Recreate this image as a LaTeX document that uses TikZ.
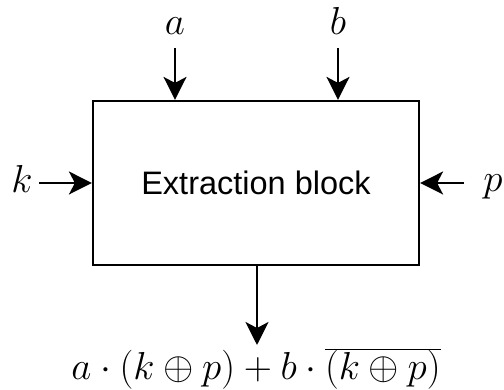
\RequirePackage{fix-cm}
\documentclass[tikz,border=0pt]{standalone}
\usepackage{fontspec}
\setsansfont{Liberation Sans}
\usetikzlibrary{arrows.meta}
\begin{document}
\begin{tikzpicture}[x=1pt,y=1pt,
  conn/.style={line width=2pt,-{Stealth[length=23pt,width=23pt,inset=6pt]}},
  blockbox/.style={draw,line width=2.2pt,minimum width=326pt,minimum height=164pt,inner sep=0pt,font=\sffamily\fontsize{32.5}{38}\selectfont},
  lbl/.style={inner sep=0pt,anchor=base,font=\fontsize{30}{36}\selectfont}]
\useasboundingbox (0,0) rectangle (504,390);
\node[blockbox] (box) at (256,207) {Extraction block};
\node[lbl] (a) at (175,355) {\scalebox{1.3}{$a$}};
\node[lbl] (b) at (338,355) {\scalebox{1.3}{$b$}};
\node[lbl] (k) at (22,197) {\scalebox{1.3}{$k$}};
\node[lbl] (p) at (493,198) {\scalebox{1.3}{$p$}};
\node[lbl] (out) at (256,10) {\scalebox{1.3}{$a\cdot(k\oplus p)+b\cdot\overline{(k\oplus p)}$}};
\coordinate (a0) at (175,342);
\coordinate (b0) at (338,342);
\coordinate (k0) at (39,207);
\coordinate (p0) at (464,207);
\coordinate (o1) at (257,45);
\draw[conn] (a0) -- (a0 |- box.north);
\draw[conn] (b0) -- (b0 |- box.north);
\draw[conn] (k0) -- (k0 -| box.west);
\draw[conn] (p0) -- (p0 -| box.east);
\draw[conn] (o1 |- box.south) -- (o1);
\end{tikzpicture}
\end{document}
